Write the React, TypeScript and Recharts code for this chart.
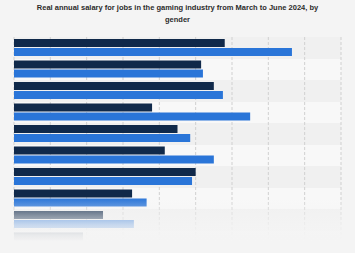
import { BarChart, Bar, XAxis, YAxis, CartesianGrid } from 'recharts';

// Job areas (labels are not shown on the axis)
const roles = [
  'Programming',
  'Art',
  'Design',
  'Production',
  'Audio',
  'Quality assurance',
  'Business',
  'Writing',
  'Community',
  'Support',
];

// Annual salary in U.S. dollars
const menSalary = [116000, 103000, 110000, 76000, 90000, 83000, 100000, 65000, 49000, 38000];
const womenSalary = [153000, 104000, 115000, 130000, 97000, 110000, 98000, 73000, 66000, 52000];

const MAX_SALARY = 180000;
const salaryTicks = [0, 20000, 40000, 60000, 80000, 100000, 120000, 140000, 160000, 180000];

const data = roles.map((role, i) => ({
  role,
  men: menSalary[i],
  women: womenSalary[i],
}));

const PAGE_BG = '#f4f4f4';

// one stripe boundary per category row
const rowBoundaries = ({ offset }: any) =>
  roles.map((_, i) => Math.round(offset.top + (offset.height * i) / roles.length));

// vertical gridlines at every salary tick
const tickPositions = ({ offset }: any) =>
  salaryTicks.map((t) => offset.left + (offset.width * t) / MAX_SALARY);

// stripes only, no horizontal lines
const noLine = () => null;

export default function App() {
  return (
    <div
      style={{
        position: 'relative',
        width: 355,
        height: 253,
        background: PAGE_BG,
        overflow: 'hidden',
        fontFamily: '"Liberation Sans", Arial, sans-serif',
      }}
    >
      <style>{`body { margin: 0; background: ${PAGE_BG}; }`}</style>
      <div
        style={{
          position: 'absolute',
          top: 2,
          left: 0,
          width: 355,
          textAlign: 'center',
          fontSize: 7.5,
          lineHeight: '12px',
          fontWeight: 'bold',
          color: '#2b2b2b',
        }}
      >
        Real annual salary for jobs in the gaming industry from March to June 2024, by
        <br />
        gender
      </div>
      <BarChart
        width={355}
        height={253}
        data={data}
        layout="vertical"
        margin={{ top: 37, right: 14, bottom: 1, left: 14 }}
        barCategoryGap={2}
        barGap={1}
      >
        <CartesianGrid
          fill="#f8f8f8"
          horizontal={noLine}
          horizontalCoordinatesGenerator={rowBoundaries}
          verticalCoordinatesGenerator={tickPositions}
          horizontalFill={['rgba(0,0,0,0.03)', 'rgba(0,0,0,0)']}
          fillOpacity={1}
          stroke="#d0d0d0"
          strokeDasharray="3 2"
        />
        <XAxis
          type="number"
          domain={[0, MAX_SALARY]}
          ticks={salaryTicks}
          height={0}
          tick={false}
          tickLine={false}
          axisLine={false}
        />
        <YAxis
          type="category"
          dataKey="role"
          width={0}
          tick={false}
          tickLine={false}
          axisLine={{ stroke: '#cfcfcf' }}
        />
        <Bar dataKey="men" name="Men" fill="#10294a" isAnimationActive={false} />
        <Bar dataKey="women" name="Women" fill="#2a75d8" isAnimationActive={false} />
      </BarChart>
      {/* fade-out over the lower rows */}
      <div
        style={{
          position: 'absolute',
          left: 0,
          top: 196,
          width: 355,
          height: 57,
          background: `linear-gradient(to bottom, rgba(244,244,244,0) 2px, rgba(244,244,244,0.5) 19px, rgba(244,244,244,0.78) 29px, rgba(244,244,244,0.95) 39px, rgba(244,244,244,1) 46px)`,
          pointerEvents: 'none',
        }}
      />
    </div>
  );
}
